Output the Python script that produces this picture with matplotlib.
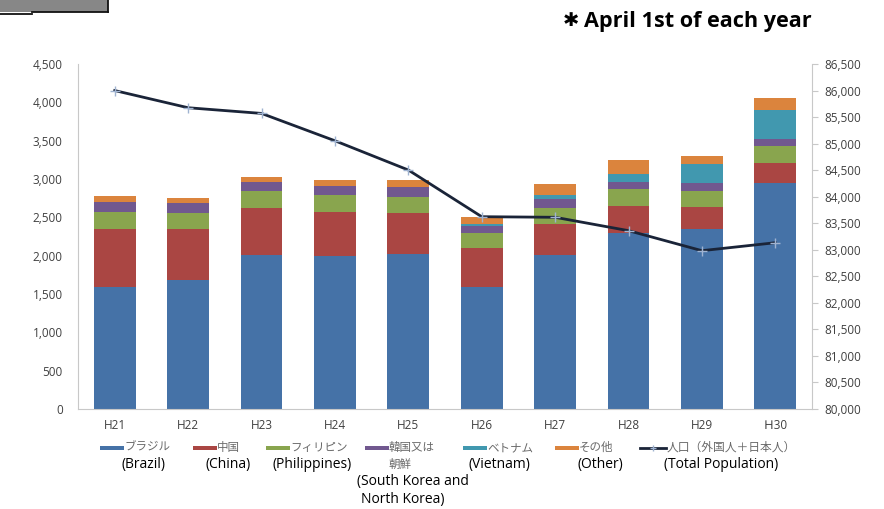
import matplotlib.pyplot as plt
from matplotlib.patches import Rectangle
from matplotlib.lines import Line2D

plt.rcParams['font.family'] = ['Open Sans', 'Noto Sans CJK JP', 'DejaVu Sans']

# data
years = ['H21', 'H22', 'H23', 'H24', 'H25', 'H26', 'H27', 'H28', 'H29', 'Ｈ30']
brazil = [1587, 1678, 2009, 1991, 2017, 1596, 2009, 2291, 2343, 2943]
china = [756, 665, 617, 583, 539, 500, 404, 361, 292, 270]
philippines = [230, 209, 213, 221, 213, 204, 213, 213, 213, 217]
korea = [127, 131, 122, 118, 122, 91, 109, 96, 104, 92]
vietnam = [0, 0, 0, 0, 0, 22, 60, 100, 239, 378]
other = [80, 65, 69, 78, 91, 96, 140, 187, 105, 152]
total_pop = [86000, 85676, 85569, 85054, 84503, 83623, 83612, 83360, 82983, 83133]

series = [brazil, china, philippines, korea, vietnam, other]
colors = ['#4572A7', '#AA4643', '#89A54E', '#71588F', '#4198AF', '#DB843D']
jp_names = ['ブラジル', '中国', 'フィリピン', '韓国又は', 'ベトナム', 'その他']
en_names = ['(Brazil)', '(China)', '(Philippines)', '', '(Vietnam)', '(Other)']

W, H = 884, 509
fig = plt.figure(figsize=(W / 100, H / 100), dpi=100)


def fx(x):
    return x / W


def fy(y):
    return 1 - y / H


ax = fig.add_axes([fx(78), fy(409), fx(812) - fx(78), fy(64) - fy(409)])
x = list(range(len(years)))
bottom = [0] * len(years)
for vals, c in zip(series, colors):
    ax.bar(x, vals, width=0.57, bottom=bottom, color=c, zorder=2)
    bottom = [b + v for b, v in zip(bottom, vals)]

ax.set_xlim(-0.5, len(years) - 0.5)
ax.set_ylim(0, 4500)
ax.set_yticks(range(0, 4501, 500))
ax.set_yticklabels([f'{v:,}' for v in range(0, 4501, 500)])
ax.set_xticks(x)
ax.set_xticklabels(years)
ax.tick_params(axis='x', length=0, pad=7, labelsize=8.5, colors='#404040')
ax.tick_params(axis='y', length=0, pad=11, labelsize=8.5, colors='#404040')
for s in ['top', 'right']:
    ax.spines[s].set_visible(False)
ax.spines['left'].set_color('#c8c8c8')
ax.spines['bottom'].set_color('#c8c8c8')

ax2 = ax.twinx()
ax2.plot(x, total_pop, color='#1a2438', lw=2, marker='+', ms=7, mew=1,
         mec='#9fb3d1', zorder=3)
ax2.set_ylim(80000, 86500)
ax2.set_yticks(range(80000, 86501, 500))
ax2.set_yticklabels([f'{v:,}' for v in range(80000, 86501, 500)])
ax2.tick_params(axis='y', length=4, width=0.8, color='#c8c8c8', pad=5,
                labelsize=8.5, labelcolor='#404040')
for s in ['top', 'left', 'bottom']:
    ax2.spines[s].set_visible(False)
ax2.spines['right'].set_color('#c8c8c8')

# title note
fig.text(fx(563), fy(21), '✱', fontsize=14, fontweight='bold', va='center',
         family=['DejaVu Sans'])
fig.text(fx(584), fy(21), 'April 1st of each year', fontsize=15.6,
         fontweight='bold', va='center')

# grey box in the top-left corner
fig.add_artist(Rectangle((0, fy(12)), fx(108), 1 - fy(12), transform=fig.transFigure,
                         facecolor='#878787', edgecolor='none'))
fig.add_artist(Line2D([fx(108), fx(108)], [fy(0), fy(12)], transform=fig.transFigure,
                      color='#111111', lw=1.3))
fig.add_artist(Line2D([fx(32), fx(108)], [fy(12), fy(12)], transform=fig.transFigure,
                      color='#111111', lw=1.3))
fig.add_artist(Line2D([0, fx(32)], [fy(13.5), fy(13.5)], transform=fig.transFigure,
                      color='#111111', lw=1.3))

# legend
patch_x = [100, 193, 266, 365, 463, 555]
en_x = [143, 228, 312, 0, 499, 600]
for px, c, jp, en, ex in zip(patch_x, colors, jp_names, en_names, en_x):
    fig.add_artist(Rectangle((fx(px), fy(450)), fx(24), fy(446) - fy(450),
                             transform=fig.transFigure, facecolor=c, edgecolor='none'))
    fig.text(fx(px + 24), fy(447.5), jp, fontsize=8.3, color='#6a6a6a', va='center')
    if en:
        fig.text(fx(ex), fy(464.5), en, fontsize=10, ha='center', va='center')
fig.text(fx(400), fy(464.5), '朝鮮', fontsize=8.3, color='#6a6a6a', ha='center', va='center')
fig.text(fx(413), fy(482), '(South Korea and', fontsize=10, ha='center', va='center')
fig.text(fx(403), fy(499), 'North Korea)', fontsize=10, ha='center', va='center')

fig.add_artist(Line2D([fx(640), fx(666)], [fy(447.5), fy(447.5)], transform=fig.transFigure,
                      color='#1a2438', lw=2))
fig.add_artist(Line2D([fx(653)], [fy(447.5)], transform=fig.transFigure, marker='+',
                      ms=5, mec='#9fb3d1', lw=0))
fig.text(fx(667), fy(447.5), '人口（外国人＋日本人）', fontsize=8.5, color='#6a6a6a', va='center')
fig.text(fx(721), fy(464.5), '(Total Population)', fontsize=10, ha='center', va='center')

fig.savefig('out.png', dpi=100)
